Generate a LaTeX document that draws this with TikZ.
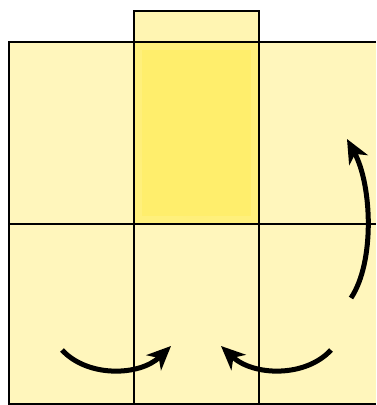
\documentclass[tikz,border=0pt]{standalone}
\usetikzlibrary{arrows.meta}
\definecolor{lightyel}{RGB}{255,246,188}
\definecolor{topyel}{RGB}{255,245,178}
\definecolor{midyel}{RGB}{255,238,108}
\tikzset{
  gridline/.style={draw=black, line width=1.2pt},
  bigarrow/.style={line width=5pt, -{Stealth[length=24pt,width=21pt,inset=7pt]}},
}
\begin{document}
\begin{tikzpicture}[x=1pt,y=-1pt]
\useasboundingbox (0,0) rectangle (376,405);
% cells
\fill[lightyel] (9,42) rectangle (376,404);
\fill[topyel] (134,11) rectangle (259,42);
\shade[inner color=midyel, outer color=midyel!80!lightyel] (134,42) rectangle (259,224);
\fill[midyel] (142,50) rectangle (251,216);
% grid lines
\draw[gridline] (134,42) -- (134,11) -- (259,11) -- (259,42);
\draw[gridline] (376,42) -- (9,42) -- (9,404) -- (376,404);
\draw[gridline] (9,224) -- (376,224);
\draw[gridline] (134,42) -- (134,404);
\draw[gridline] (259,42) -- (259,404);
% arrows
\coordinate (a1) at (62,350);
\coordinate (b1) at (171,346);
\coordinate (a2) at (331,350);
\coordinate (b2) at (221,346);
\coordinate (a3) at (351,298);
\coordinate (b3) at (347,139);
\draw[bigarrow] (a1) .. controls (88,378) and (140,376) .. (b1);
\draw[bigarrow] (a2) .. controls (305,378) and (253,376) .. (b2);
\draw[bigarrow] (a3) .. controls (375,262) and (372,185) .. (b3);
\end{tikzpicture}
\end{document}
